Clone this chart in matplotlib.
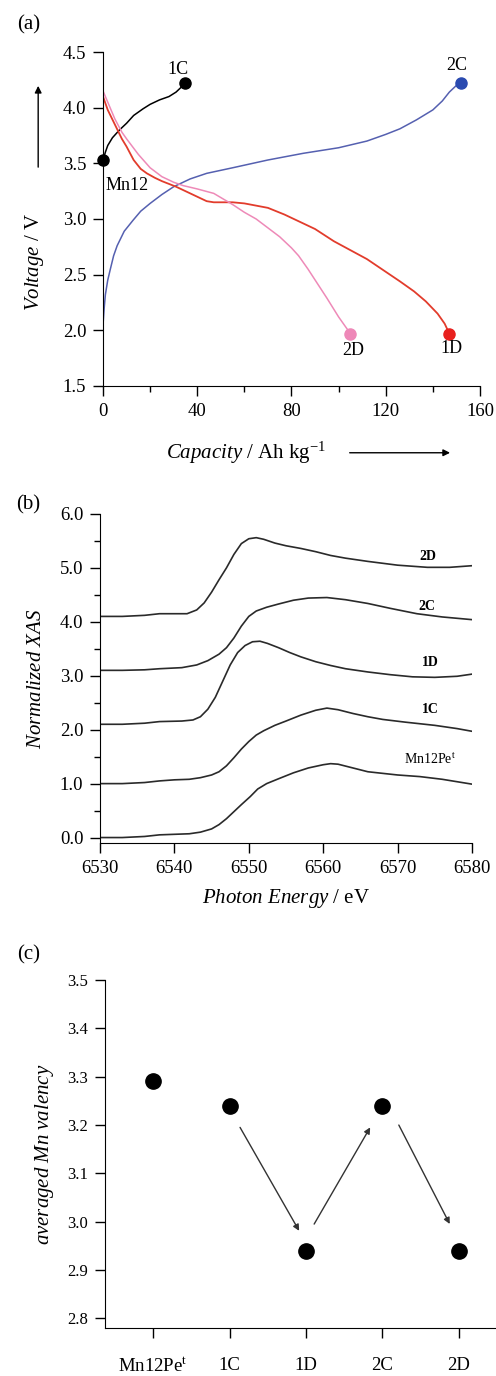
import matplotlib
matplotlib.use("Agg")
import matplotlib.pyplot as plt
from matplotlib.ticker import MultipleLocator, FormatStrFormatter

plt.rcParams['font.family'] = ['Liberation Serif', 'DejaVu Serif']
plt.rcParams['mathtext.fontset'] = 'custom'
plt.rcParams['mathtext.rm'] = 'Liberation Serif'
plt.rcParams['mathtext.it'] = 'Liberation Serif:italic'
plt.rcParams['font.size'] = 13
plt.rcParams['lines.solid_joinstyle'] = 'round'

# (a) charge / discharge curves
cap_1c = [0, 1, 2, 4, 7, 10, 13, 17, 20, 24, 28, 31, 33, 35]
volt_1c = [3.53, 3.6, 3.66, 3.73, 3.8, 3.86, 3.93, 3.99, 4.03, 4.07, 4.1, 4.14, 4.18, 4.22]

cap_2c = [0, 0.5, 1, 2, 3, 4.5, 6, 9, 12.8, 16, 20, 25, 30, 37, 44, 55, 70, 85,
          100, 112, 120, 126, 133, 140, 144, 147, 150, 152]
volt_2c = [2.05, 2.2, 2.32, 2.45, 2.54, 2.67, 2.76, 2.89, 2.99, 3.07, 3.14, 3.22, 3.29, 3.36, 3.41, 3.46, 3.53, 3.59,
           3.64, 3.70, 3.76, 3.81, 3.89, 3.98, 4.06, 4.14, 4.2, 4.22]

cap_1d = [0, 2, 5, 8, 10, 13, 16, 18.6, 22, 25, 31, 36, 40, 44, 47, 51, 55, 60, 65, 70, 77, 84,
          90, 98, 105, 112, 119, 126, 132, 137, 142, 145, 147]
volt_1d = [4.1, 3.98, 3.85, 3.72, 3.65, 3.53, 3.45, 3.41, 3.37, 3.34, 3.29, 3.24, 3.2, 3.16, 3.15, 3.15, 3.15, 3.14, 3.12, 3.10, 3.04, 2.97,
           2.91, 2.8, 2.72, 2.64, 2.54, 2.44, 2.35, 2.26, 2.15, 2.06, 1.97]

cap_2d = [0, 3, 5, 8, 10, 15, 20, 25, 30, 34, 40, 47, 51, 55, 60, 65, 70, 75, 80, 83, 87, 91, 95, 100, 103, 105]
volt_2d = [4.15, 4.0, 3.9, 3.78, 3.72, 3.58, 3.46, 3.38, 3.33, 3.30, 3.27, 3.23, 3.18, 3.13, 3.06, 3.0, 2.92, 2.84, 2.74, 2.67, 2.55, 2.42, 2.29, 2.12, 2.03, 1.97]

# (b) XAS spectra
e_mn = [6530, 6533, 6536, 6538, 6540, 6542, 6543.5, 6545, 6546, 6547, 6548, 6549, 6550.2, 6551.2, 6552.4, 6554,
        6556, 6558, 6560, 6561, 6562, 6564, 6566, 6568, 6570, 6573, 6576, 6580]
xas_mn = [0.0, 0.0, 0.02, 0.05, 0.06, 0.07, 0.1, 0.16, 0.24, 0.35, 0.48, 0.61, 0.76, 0.9, 1.0, 1.09,
          1.2, 1.29, 1.35, 1.37, 1.36, 1.29, 1.22, 1.19, 1.16, 1.13, 1.08, 0.99]

e_1c = [6530, 6533, 6536, 6538, 6540, 6542, 6543.5, 6545, 6546, 6547, 6548, 6549, 6550, 6551, 6552, 6553.5,
        6555, 6557, 6559, 6560.5, 6562, 6564, 6566, 6568, 6571, 6575, 6578, 6580]
xas_1c = [1.0, 1.0, 1.02, 1.05, 1.07, 1.08, 1.11, 1.16, 1.22, 1.33, 1.48, 1.64, 1.78, 1.9, 1.98, 2.08,
          2.16, 2.27, 2.36, 2.40, 2.37, 2.3, 2.24, 2.19, 2.14, 2.08, 2.02, 1.97]

e_1d = [6530, 6533, 6536, 6538, 6541, 6542.5, 6543.5, 6544.5, 6545.5, 6546.5, 6547.5, 6548.5, 6549.5, 6550.5,
        6551.5, 6552.5, 6554, 6555.5, 6557, 6559, 6561, 6563, 6566, 6569, 6572, 6575, 6578, 6580]
xas_1d = [2.10, 2.10, 2.12, 2.15, 2.16, 2.18, 2.24, 2.38, 2.6, 2.9, 3.2, 3.43, 3.56, 3.63,
          3.64, 3.6, 3.52, 3.43, 3.35, 3.26, 3.19, 3.13, 3.07, 3.02, 2.98, 2.97, 2.99, 3.03]

e_2c = [6530, 6533, 6536, 6538, 6541, 6543, 6544.5, 6546, 6547, 6548, 6549, 6550, 6551, 6552.4,
        6554, 6556, 6558, 6560.5, 6563, 6566, 6569, 6572.6, 6576, 6580]
xas_2c = [3.1, 3.1, 3.11, 3.13, 3.15, 3.2, 3.28, 3.4, 3.52, 3.7, 3.92, 4.1, 4.2, 4.27,
          4.33, 4.4, 4.44, 4.45, 4.41, 4.34, 4.25, 4.15, 4.09, 4.04]

e_2d = [6530, 6533, 6536, 6538, 6541.7, 6543, 6544, 6545, 6546, 6547, 6548, 6549, 6550, 6551, 6552,
        6553.5, 6555, 6557, 6559, 6561, 6563, 6566, 6570, 6574, 6577, 6580]
xas_2d = [4.1, 4.1, 4.12, 4.15, 4.15, 4.22, 4.35, 4.55, 4.78, 5.0, 5.25, 5.45, 5.54, 5.56, 5.53,
          5.46, 5.41, 5.36, 5.3, 5.23, 5.18, 5.12, 5.05, 5.01, 5.01, 5.04]

# (c) averaged Mn valency
samples = ['Mn12Pe$^{\\mathrm{t}}$', '1C', '1D', '2C', '2D']
valency = [3.29, 3.24, 2.94, 3.24, 2.94]

fig = plt.figure(figsize=(4.96, 13.76), dpi=100)


def style_axes(ax):
    ax.spines['top'].set_visible(False)
    ax.spines['right'].set_visible(False)
    ax.tick_params(which='major', direction='out', length=7, width=1, pad=5, labelsize=13.5)
    ax.tick_params(which='minor', direction='out', length=4, width=1)


# ---- (a)
ax1 = fig.add_axes([0.2077, 0.7195, 0.76, 0.2427])
ax1.plot(cap_1c, volt_1c, color='black', lw=1.1)
ax1.plot(cap_2c, volt_2c, color='#5560b0', lw=1.1)
ax1.plot(cap_1d, volt_1d, color='#e23c2c', lw=1.3)
ax1.plot(cap_2d, volt_2d, color='#ee8ab8', lw=1.1)
ax1.plot([cap_1c[0], cap_1c[-1]], [volt_1c[0], volt_1c[-1]], 'o', color='black', ms=8, clip_on=False)
ax1.plot(cap_2c[-1], volt_2c[-1], 'o', color='#2a4ab0', ms=8, clip_on=False)
ax1.plot(cap_1d[-1], volt_1d[-1], 'o', color='#e8201e', ms=8, clip_on=False)
ax1.plot(cap_2d[-1], volt_2d[-1], 'o', color='#ee88b8', ms=8, clip_on=False)
ax1.text(32, 4.34, '1C', ha='center', va='center', fontsize=13)
ax1.text(150, 4.38, '2C', ha='center', va='center', fontsize=13)
ax1.text(1, 3.3, 'Mn12', ha='left', va='center', fontsize=13)
ax1.text(106, 1.82, '2D', ha='center', va='center', fontsize=13)
ax1.text(148, 1.84, '1D', ha='center', va='center', fontsize=13)
ax1.set_xlim(0, 160)
ax1.set_ylim(1.5, 4.5)
ax1.xaxis.set_major_locator(MultipleLocator(40))
ax1.xaxis.set_minor_locator(MultipleLocator(20))
ax1.yaxis.set_major_locator(MultipleLocator(0.5))
style_axes(ax1)
ax1.set_ylabel('$\\mathit{Voltage}$ / V', fontsize=15)
ax1.yaxis.set_label_coords(-0.15, 0.37)
ax1.set_xlabel('$\\mathit{Capacity}$ / Ah kg$^{-1}$', fontsize=15)
ax1.xaxis.set_label_coords(0.38, -0.16)
ax1.annotate('', xy=(-0.172, 0.907), xytext=(-0.172, 0.647), xycoords='axes fraction',
             arrowprops=dict(arrowstyle='-|>', color='black', lw=1, mutation_scale=10))
ax1.annotate('', xy=(0.928, -0.2), xytext=(0.647, -0.2), xycoords='axes fraction',
             arrowprops=dict(arrowstyle='-|>', color='black', lw=1, mutation_scale=10))
fig.text(0.057, 0.982, '(a)', fontsize=15, ha='center', va='center')

# ---- (b)
ax2 = fig.add_axes([0.2016, 0.3874, 0.75, 0.2391])
for e, v in [(e_mn, xas_mn), (e_1c, xas_1c), (e_1d, xas_1d), (e_2c, xas_2c), (e_2d, xas_2d)]:
    ax2.plot(e, v, color='#2a2a2a', lw=1.2)
ax2.text(6574, 5.22, '2D', ha='center', va='center', fontsize=10, fontweight='bold')
ax2.text(6574, 4.29, '2C', ha='center', va='center', fontsize=10, fontweight='bold')
ax2.text(6574.4, 3.25, '1D', ha='center', va='center', fontsize=10, fontweight='bold')
ax2.text(6574.4, 2.37, '1C', ha='center', va='center', fontsize=10, fontweight='bold')
ax2.text(6574.4, 1.44, 'Mn12Pe$^{\\mathrm{t}}$', ha='center', va='center', fontsize=10)
ax2.set_xlim(6530, 6580)
ax2.set_ylim(-0.1, 6.0)
ax2.xaxis.set_major_locator(MultipleLocator(10))
ax2.yaxis.set_major_locator(MultipleLocator(1.0))
ax2.yaxis.set_minor_locator(MultipleLocator(0.5))
ax2.yaxis.set_major_formatter(FormatStrFormatter('%.1f'))
style_axes(ax2)
ax2.set_ylabel('$\\mathit{Normalized\\ XAS}$', fontsize=15)
ax2.yaxis.set_label_coords(-0.145, 0.5)
ax2.set_xlabel('$\\mathit{Photon\\ Energy}$ / eV', fontsize=15)
ax2.xaxis.set_label_coords(0.5, -0.135)
fig.text(0.057, 0.633, '(b)', fontsize=15, ha='center', va='center')

# ---- (c)
ax3 = fig.add_axes([0.2117, 0.0349, 0.79, 0.2529])
xs = list(range(len(samples)))
ax3.plot(xs, valency, 'o', color='black', ms=11, ls='none')
arrow = dict(arrowstyle='-|>', color='#333333', lw=1, mutation_scale=9)
ax3.annotate('', xy=(1.93, 2.976), xytext=(1.12, 3.20), arrowprops=arrow)
ax3.annotate('', xy=(2.86, 3.20), xytext=(2.09, 2.99), arrowprops=arrow)
ax3.annotate('', xy=(3.9, 2.99), xytext=(3.2, 3.205), arrowprops=arrow)
ax3.set_xlim(-0.63, 4.5)
ax3.set_ylim(2.78, 3.5)
ax3.set_xticks(xs)
ax3.set_xticklabels(samples)
ax3.yaxis.set_major_locator(MultipleLocator(0.1))
style_axes(ax3)
ax3.tick_params(axis='x', pad=14)
ax3.tick_params(axis='y', labelsize=12)
ax3.set_ylabel('$\\mathit{averaged\\ Mn\\ valency}$', fontsize=15)
ax3.yaxis.set_label_coords(-0.125, 0.5)
fig.text(0.057, 0.306, '(c)', fontsize=15, ha='center', va='center')

fig.savefig('out.png', dpi=100)
